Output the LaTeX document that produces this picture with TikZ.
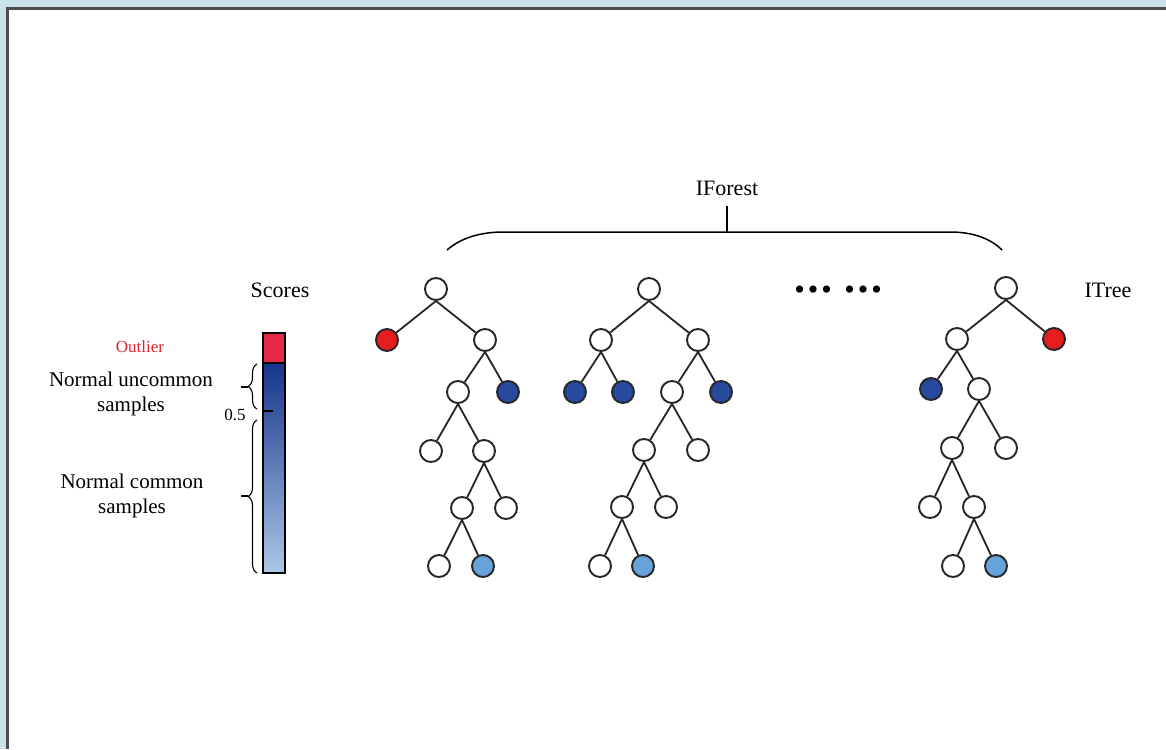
\documentclass[tikz,border=0pt]{standalone}
\usepackage{fontspec}
\setmainfont{Liberation Serif}
\usetikzlibrary{decorations.pathreplacing}
\definecolor{bgblue}{RGB}{201,225,233}
\definecolor{framegray}{RGB}{80,76,76}
\definecolor{nred}{RGB}{228,30,30}
\definecolor{ndblue}{RGB}{40,74,158}
\definecolor{nlblue}{RGB}{104,162,218}
\definecolor{barred}{RGB}{230,40,72}
\definecolor{bartop}{RGB}{22,52,140}
\definecolor{barbot}{RGB}{172,200,230}
\definecolor{outred}{RGB}{225,35,45}
\begin{document}
\begin{tikzpicture}[x=0.5pt,y=-0.5pt,
  nd/.style={circle,draw=black!85,line width=0.95pt,minimum size=11pt,inner sep=0pt,fill=white},
  rednd/.style={nd,fill=nred},
  dbnd/.style={nd,fill=ndblue},
  lbnd/.style={nd,fill=nlblue},
  edge/.style={line width=0.9pt,draw=black!85},
  lbl/.style={inner sep=0pt,font=\fontsize{11}{13}\selectfont},
  dotlbl/.style={inner sep=0pt,font=\fontsize{15}{15}\selectfont},
  brc/.style={decorate,decoration={brace,amplitude=4.5pt},line width=0.55pt}]
\useasboundingbox (0,0) rectangle (1166,749);
\fill[bgblue] (0,0) rectangle (1166,749);
\fill[white] (7,9) rectangle (1166,749);
\draw[framegray,line width=1.5pt] (7,749) -- (7,9) -- (1166,9);

% Tree 1
\node[nd] (a0) at (436,289) {};
\node[rednd] (a1) at (387,340) {};
\node[nd] (a2) at (485,340) {};
\node[nd] (a3) at (458,392) {};
\node[dbnd] (a4) at (508,392) {};
\node[nd] (a5) at (431,451) {};
\node[nd] (a6) at (484,451) {};
\node[nd] (a7) at (462,508) {};
\node[nd] (a8) at (506,508) {};
\node[nd] (a9) at (439,566) {};
\node[lbnd] (a10) at (483,566) {};
\foreach \p/\c in {a0/a1,a0/a2,a2/a3,a2/a4,a3/a5,a3/a6,a6/a7,a6/a8,a7/a9,a7/a10}
  \draw[edge] (\p.south) -- (\c);

% Tree 2
\node[nd] (b0) at (649,289) {};
\node[nd] (b1) at (601,340) {};
\node[nd] (b2) at (698,340) {};
\node[dbnd] (b3) at (575,392) {};
\node[dbnd] (b4) at (623,392) {};
\node[nd] (b5) at (672,392) {};
\node[dbnd] (b6) at (721,392) {};
\node[nd] (b7) at (644,450) {};
\node[nd] (b8) at (698,450) {};
\node[nd] (b9) at (622,507) {};
\node[nd] (b10) at (666,507) {};
\node[nd] (b11) at (600,566) {};
\node[lbnd] (b12) at (643,566) {};
\foreach \p/\c in {b0/b1,b0/b2,b1/b3,b1/b4,b2/b5,b2/b6,b5/b7,b5/b8,b7/b9,b7/b10,b9/b11,b9/b12}
  \draw[edge] (\p.south) -- (\c);

% Tree 3
\node[nd] (c0) at (1006,288) {};
\node[nd] (c1) at (957,339) {};
\node[rednd] (c2) at (1054,339) {};
\node[dbnd] (c3) at (931,389) {};
\node[nd] (c4) at (979,389) {};
\node[nd] (c5) at (952,448) {};
\node[nd] (c6) at (1006,448) {};
\node[nd] (c7) at (930,507) {};
\node[nd] (c8) at (974,507) {};
\node[nd] (c9) at (953,566) {};
\node[lbnd] (c10) at (996,566) {};
\foreach \p/\c in {c0/c1,c0/c2,c1/c3,c1/c4,c4/c5,c4/c6,c5/c7,c5/c8,c8/c9,c8/c10}
  \draw[edge] (\p.south) -- (\c);

% dots
\node[dotlbl] (dots1) at (813,293) {•\hspace{1.5pt}•\hspace{1.5pt}•};
\node[dotlbl] (dots2) at (863,293) {•\hspace{1.5pt}•\hspace{1.5pt}•};

% labels
\node[lbl] (itree) at (1108,290) {ITree};
\node[lbl] (iforest) at (727,188) {IForest};
\node[lbl] (scores) at (280,290) {Scores};

% top brace
\coordinate (bl) at (447,250);
\coordinate (br) at (1002,250);
\coordinate (bm) at (727,232);
\coordinate (bs) at (727,206);
\draw[line width=0.75pt] (bl) .. controls (462,237) and (482,232) .. (504,232) -- (950,232) .. controls (972,232) and (990,238) .. (br);
\draw[line width=0.75pt] (bs) -- (bm);

% score bar
\shade[top color=bartop,bottom color=barbot] (263,363) rectangle (285,573);
\fill[barred] (263,333) rectangle (285,363);
\draw[line width=0.6pt] (263,333) rectangle (285,573);
\draw[line width=0.6pt] (263,363) -- (285,363);
\draw[line width=0.6pt] (264,411) -- (273,411);

% left braces
\draw[brc] (257,409) -- (257,364);
\draw[brc] (257,573) -- (257,420);
\draw[line width=0.6pt] (241,387) -- (248,387);
\draw[line width=0.6pt] (241,496) -- (248,496);

\node[inner sep=0pt,font=\fontsize{8.5}{10}\selectfont] (half) at (235,415) {0.5};
\node[inner sep=0pt,text=outred,font=\fontsize{8.5}{10}\selectfont] (outl) at (140,347) {Outlier};
\node[lbl,align=center,font=\fontsize{10.5}{12.2}\selectfont] (unc) at (131,394) {Normal uncommon\\samples};
\node[lbl,align=center,font=\fontsize{10.5}{12.8}\selectfont] (com) at (132,496) {Normal common\\samples};
\end{tikzpicture}
\end{document}
